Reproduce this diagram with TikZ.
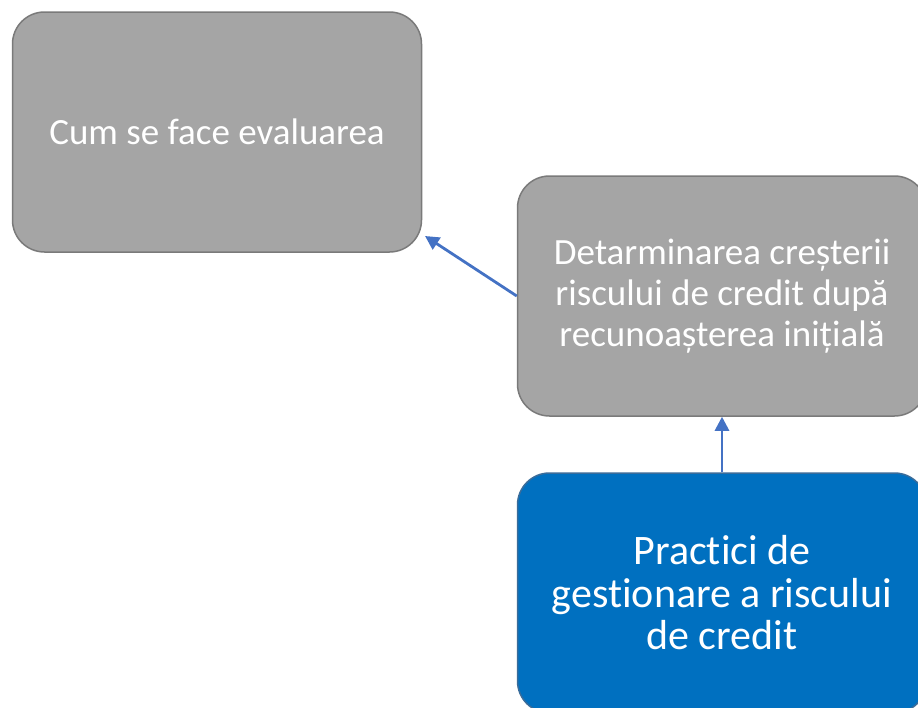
\documentclass[tikz,border=0pt]{standalone}
\usepackage{fontspec}
\setmainfont{Carlito}[Ligatures=NoCommon]
\usetikzlibrary{arrows.meta}

\definecolor{boxgray}{HTML}{A5A5A5}
\definecolor{edgegray}{HTML}{7A7A7A}
\definecolor{boxblue}{HTML}{0070C0}
\definecolor{edgeblue}{HTML}{3A6C9A}
\definecolor{arrowblue}{HTML}{4472C4}

\tikzset{
    graybox/.style={
      draw=edgegray, fill=boxgray, line width=1.5pt, rounded corners=32pt,
      minimum width=409pt, minimum height=240pt, inner sep=0pt,
      text=white, align=center, font=\fontsize{37}{41}\selectfont
    }
  }
\tikzset{
    bluebox/.style={
      graybox, draw=edgeblue, fill=boxblue, font=\fontsize{42}{42.5}\selectfont
    }
  }
\tikzset{
    linkarrow/.style={
      draw=arrowblue, line width=2.8pt, -{Triangle[length=14pt,width=14pt]}
    }
  }

\begin{document}
\begin{tikzpicture}[x=1pt, y=-1pt]
    \useasboundingbox (0,0) rectangle (918,707);
    \clip (0,0) rectangle (918,707);

    \node[graybox] (eval) at (217,132) {Cum se face evaluarea};
    \node[graybox] (crestere) at (722,296) {Detarminarea creșterii\\riscului de credit după\\recunoașterea inițială};
    \node[bluebox] (practici) at (722,593) {Practici de\\gestionare a riscului\\de credit};

    \coordinate (evalend) at (425,236);

    \draw[linkarrow] (crestere.west) -- (evalend);
    \draw[linkarrow] (practici.north) -- (crestere.south);

  \end{tikzpicture}
\end{document}
